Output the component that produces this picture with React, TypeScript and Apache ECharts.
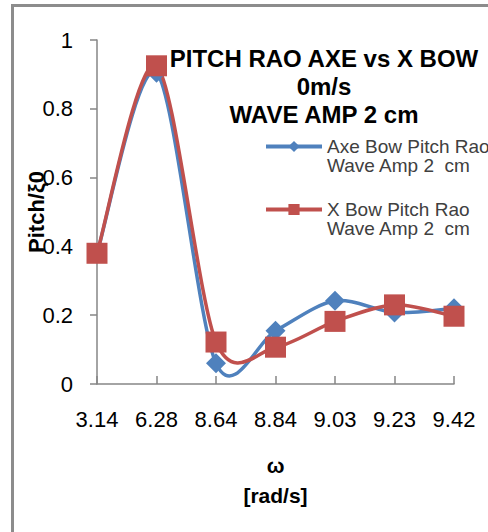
import React, { useEffect, useRef } from "react";
import * as echarts from "echarts";

const categories = ["3.14", "6.28", "8.64", "8.84", "9.03", "9.23", "9.42"];
const axeBowPitch = [0.38, 0.905, 0.06, 0.155, 0.242, 0.208, 0.22];
const xBowPitch = [0.38, 0.925, 0.122, 0.107, 0.182, 0.23, 0.197];
const seriesNames = ["Axe Bow Pitch Rao\nWave Amp 2  cm", "X Bow Pitch Rao\nWave Amp 2  cm"];
const titleText = "PITCH RAO AXE vs X BOW\n0m/s\nWAVE AMP 2 cm";
const yMin = 0;
const yMax = 1;
const yInterval = 0.2;

const BLUE = "#4F81BD";
const RED = "#C0504D";

function smoothCurve(values: number[], color: string, width: number) {
  const n = values.length;
  return {
    type: "custom",
    silent: true,
    data: values.map((v, i) => [i, v]),
    encode: { x: 0, y: 1 },
    renderItem: (params: any, api: any) => {
      const i = params.dataIndex;
      if (i >= n - 1) return null;
      const pt = (k: number) => {
        const kk = Math.max(0, Math.min(n - 1, k));
        return api.coord([kk, values[kk]]);
      };
      const p0 = pt(i - 1);
      const p1 = pt(i);
      const p2 = pt(i + 1);
      const p3 = pt(i + 2);
      const t = 0.15;
      return {
        type: "bezierCurve",
        shape: {
          x1: p1[0],
          y1: p1[1],
          x2: p2[0],
          y2: p2[1],
          cpx1: p1[0] + (p2[0] - p0[0]) * t,
          cpy1: p1[1] + (p2[1] - p0[1]) * t,
          cpx2: p2[0] - (p3[0] - p1[0]) * t,
          cpy2: p2[1] - (p3[1] - p1[1]) * t,
        },
        style: { stroke: color, lineWidth: width, fill: "none" },
      };
    },
  };
}

export default function App() {
  const ref = useRef<HTMLDivElement>(null);
  useEffect(() => {
    if (!ref.current) return;
    const chart = echarts.init(ref.current, null, { renderer: "svg" });
    const font = "'Liberation Sans', Arial, sans-serif";
    chart.setOption({
      animation: false,
      backgroundColor: "#ffffff",
      textStyle: { fontFamily: font },
      title: {
        text: titleText,
        left: 324,
        top: 44,
        textAlign: "center",
        padding: 0,
        textStyle: { fontSize: 24, fontWeight: "bold", color: "#000", lineHeight: 28, fontFamily: font },
      },
      legend: {
        orient: "vertical",
        left: 264,
        top: 118,
        padding: 0,
        itemGap: 6,
        itemWidth: 56,
        itemHeight: 14,
        formatter: (name: string) => "\n" + name,
        textStyle: { fontSize: 19, lineHeight: 19, color: "#404040", fontFamily: font },
        lineStyle: { width: 4, opacity: 1 },
        data: seriesNames,
      },
      grid: { left: 97, right: 34, top: 40, bottom: 148 },
      xAxis: {
        type: "category",
        data: categories,
        boundaryGap: false,
        name: "ω\n[rad/s]",
        nameLocation: "middle",
        nameGap: 66,
        nameMoveOverlap: false,
        nameTextStyle: { fontSize: 21, fontWeight: "bold", color: "#000", lineHeight: 30, fontFamily: font },
        axisLine: { lineStyle: { color: "#868686", width: 1.5 } },
        axisTick: { inside: true, length: 8, lineStyle: { color: "#868686", width: 1.5 } },
        axisLabel: { color: "#000", fontSize: 22, margin: 24, fontFamily: font },
        splitLine: { show: false },
      },
      yAxis: {
        type: "value",
        min: yMin,
        max: yMax,
        interval: yInterval,
        name: "Pitch/ξ0",
        nameLocation: "middle",
        nameGap: 50,
        nameMoveOverlap: false,
        nameTextStyle: { fontSize: 22, fontWeight: "bold", color: "#000", fontFamily: font },
        axisLine: { show: true, lineStyle: { color: "#868686", width: 1.5 } },
        axisTick: { show: true, length: 7, lineStyle: { color: "#868686", width: 1.5 } },
        axisLabel: { color: "#000", fontSize: 22, margin: 24, fontFamily: font },
        splitLine: { show: false },
      },
      graphic: [
        {
          type: "rect",
          silent: true,
          shape: { x: 12.5, y: 5.5, width: 700, height: 700 },
          style: { fill: "none", stroke: "#8c8c8c", lineWidth: 3 },
        },
      ],
      series: [
        smoothCurve(axeBowPitch, BLUE, 3.5),
        {
          name: seriesNames[0],
          type: "line",
          data: axeBowPitch,
          symbol: "diamond",
          symbolSize: 20,
          lineStyle: { color: BLUE, width: 4, opacity: 0 },
          itemStyle: { color: BLUE },
        },
        smoothCurve(xBowPitch, RED, 3.5),
        {
          name: seriesNames[1],
          type: "line",
          data: xBowPitch,
          symbol: "rect",
          symbolSize: 21,
          lineStyle: { color: RED, width: 4, opacity: 0 },
          itemStyle: { color: RED },
        },
      ],
    });
    return () => chart.dispose();
  }, []);
  return <div ref={ref} style={{ position: "fixed", left: 0, top: 0, width: 488, height: 532 }} />;
}
